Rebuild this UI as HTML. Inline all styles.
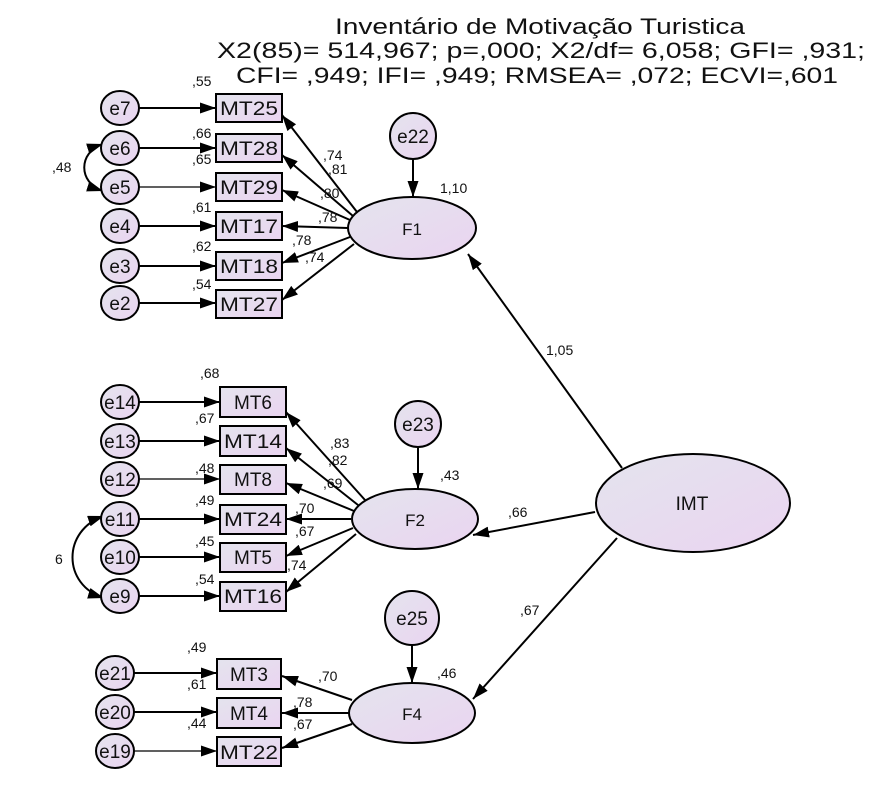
<!DOCTYPE html>
<html><head><meta charset="utf-8"><style>
html,body{margin:0;padding:0;background:#fff;}
svg{display:block;font-family:"Liberation Sans",Arial,sans-serif;}
</style></head><body>
<svg width="881" height="790" viewBox="0 0 881 790" xmlns="http://www.w3.org/2000/svg">
<defs>
<linearGradient id="g" x1="0" y1="0" x2="1" y2="1">
<stop offset="0" stop-color="#e4e4ee"/><stop offset="1" stop-color="#ead4f0"/>
</linearGradient>
<marker id="a" viewBox="0 0 16 11" refX="16" refY="5.5" markerWidth="16" markerHeight="11" markerUnits="userSpaceOnUse" orient="auto-start-reverse">
<path d="M0,0 L16,5.5 L0,11 z" fill="#000"/>
</marker>
</defs>

<g font-size="22" fill="#111" text-anchor="middle">
<text x="540" y="34" textLength="410" lengthAdjust="spacingAndGlyphs">Inventário de Motivação Turistica</text>
<text x="541" y="58" textLength="648" lengthAdjust="spacingAndGlyphs">X2(85)= 514,967; p=,000; X2/df= 6,058; GFI= ,931;</text>
<text x="537" y="83" textLength="602" lengthAdjust="spacingAndGlyphs">CFI= ,949; IFI= ,949; RMSEA= ,072; ECVI=,601</text>
</g>

<g stroke="#000" stroke-width="2" fill="none">
<line x1="138" y1="108" x2="216" y2="108" marker-end="url(#a)"/>
<line x1="138" y1="148" x2="216" y2="148" marker-end="url(#a)"/>
<line x1="138" y1="187" x2="216" y2="187" marker-end="url(#a)" stroke-width="1.3"/>
<line x1="138" y1="226" x2="216" y2="226" marker-end="url(#a)"/>
<line x1="138" y1="266" x2="216" y2="266" marker-end="url(#a)"/>
<line x1="138" y1="303" x2="216" y2="303" marker-end="url(#a)"/>
<line x1="357" y1="212" x2="282" y2="115" marker-end="url(#a)"/>
<line x1="353" y1="216" x2="282" y2="155" marker-end="url(#a)"/>
<line x1="350" y1="220" x2="282" y2="190" marker-end="url(#a)"/>
<line x1="348" y1="228" x2="282" y2="226" marker-end="url(#a)"/>
<line x1="350" y1="237" x2="282" y2="263" marker-end="url(#a)"/>
<line x1="354" y1="244" x2="282" y2="300" marker-end="url(#a)"/>
<line x1="413" y1="159" x2="413" y2="197" marker-end="url(#a)"/>
<path d="M103,144 C78,152 78,183 103,191" marker-start="url(#a)" marker-end="url(#a)"/>

<line x1="138" y1="402" x2="220" y2="402" marker-end="url(#a)"/>
<line x1="138" y1="441" x2="220" y2="441" marker-end="url(#a)"/>
<line x1="138" y1="479" x2="220" y2="479" marker-end="url(#a)" stroke-width="1.3"/>
<line x1="138" y1="519" x2="220" y2="519" marker-end="url(#a)"/>
<line x1="138" y1="557" x2="220" y2="557" marker-end="url(#a)"/>
<line x1="138" y1="596" x2="220" y2="596" marker-end="url(#a)"/>
<line x1="365" y1="500" x2="286" y2="412" marker-end="url(#a)"/>
<line x1="358" y1="505" x2="286" y2="448" marker-end="url(#a)"/>
<line x1="354" y1="511" x2="286" y2="483" marker-end="url(#a)"/>
<line x1="351" y1="519" x2="286" y2="519" marker-end="url(#a)"/>
<line x1="353" y1="528" x2="286" y2="556" marker-end="url(#a)"/>
<line x1="356" y1="534" x2="286" y2="592" marker-end="url(#a)"/>
<line x1="418" y1="448" x2="418" y2="489" marker-end="url(#a)"/>
<path d="M104,516 C62,530 62,585 104,598" marker-start="url(#a)" marker-end="url(#a)"/>

<line x1="133" y1="673" x2="217" y2="673" marker-end="url(#a)"/>
<line x1="133" y1="712" x2="217" y2="712" marker-end="url(#a)"/>
<line x1="133" y1="751" x2="217" y2="751" marker-end="url(#a)" stroke-width="1.3"/>
<line x1="352" y1="700" x2="282" y2="676" marker-end="url(#a)"/>
<line x1="349" y1="713" x2="282" y2="713" marker-end="url(#a)"/>
<line x1="352" y1="724" x2="282" y2="748" marker-end="url(#a)"/>
<line x1="412" y1="645" x2="412" y2="683" marker-end="url(#a)"/>

<line x1="622" y1="468" x2="468" y2="254" marker-end="url(#a)"/>
<line x1="595" y1="512" x2="473" y2="535" marker-end="url(#a)"/>
<line x1="617" y1="538" x2="473" y2="699" marker-end="url(#a)"/>
</g>

<g stroke="#000" stroke-width="2" fill="url(#g)">
<ellipse cx="120" cy="108" rx="19" ry="17"/>
<ellipse cx="120" cy="148" rx="19" ry="17"/>
<ellipse cx="120" cy="187" rx="19" ry="17"/>
<ellipse cx="120" cy="226" rx="19" ry="17"/>
<ellipse cx="120" cy="266" rx="19" ry="17"/>
<ellipse cx="120" cy="303" rx="19" ry="17"/>
<rect x="216" y="94" width="66" height="28"/>
<rect x="216" y="134" width="66" height="28"/>
<rect x="216" y="173" width="66" height="28"/>
<rect x="216" y="212" width="66" height="28"/>
<rect x="216" y="252" width="66" height="28"/>
<rect x="216" y="290" width="66" height="28"/>
<ellipse cx="412" cy="228" rx="64" ry="31"/>
<circle cx="413" cy="136" r="23"/>

<ellipse cx="120" cy="402" rx="19" ry="17"/>
<ellipse cx="120" cy="441" rx="19" ry="17"/>
<ellipse cx="120" cy="479" rx="19" ry="17"/>
<ellipse cx="120" cy="519" rx="19" ry="17"/>
<ellipse cx="120" cy="557" rx="19" ry="17"/>
<ellipse cx="120" cy="596" rx="19" ry="17"/>
<rect x="220" y="387" width="66" height="30"/>
<rect x="220" y="426" width="66" height="30"/>
<rect x="220" y="465" width="66" height="29"/>
<rect x="220" y="505" width="66" height="29"/>
<rect x="220" y="543" width="66" height="29"/>
<rect x="220" y="582" width="66" height="29"/>
<ellipse cx="415" cy="519" rx="63" ry="30"/>
<circle cx="418" cy="424" r="23"/>

<ellipse cx="693" cy="503" rx="97" ry="49"/>

<ellipse cx="115" cy="673" rx="19" ry="17"/>
<ellipse cx="115" cy="712" rx="19" ry="17"/>
<ellipse cx="115" cy="751" rx="19" ry="17"/>
<rect x="217" y="659" width="64" height="30"/>
<rect x="217" y="698" width="64" height="30"/>
<rect x="217" y="737" width="64" height="29"/>
<ellipse cx="412" cy="713" rx="63" ry="30"/>
<circle cx="412" cy="618" r="27"/>
</g>

<g font-size="19" fill="#111" text-anchor="middle">
<text x="120" y="115">e7</text><text x="120" y="155">e6</text><text x="120" y="194">e5</text>
<text x="120" y="233">e4</text><text x="120" y="273">e3</text><text x="120" y="310">e2</text>
<text x="249" y="115" textLength="58" lengthAdjust="spacingAndGlyphs">MT25</text><text x="249" y="155" textLength="58" lengthAdjust="spacingAndGlyphs">MT28</text><text x="249" y="194" textLength="58" lengthAdjust="spacingAndGlyphs">MT29</text>
<text x="249" y="233" textLength="58" lengthAdjust="spacingAndGlyphs">MT17</text><text x="249" y="273" textLength="58" lengthAdjust="spacingAndGlyphs">MT18</text><text x="249" y="311" textLength="58" lengthAdjust="spacingAndGlyphs">MT27</text>
<text x="412" y="235" font-size="17">F1</text><text x="413" y="143">e22</text>
<text x="120" y="409">e14</text><text x="120" y="448">e13</text><text x="120" y="486">e12</text>
<text x="120" y="526">e11</text><text x="120" y="564">e10</text><text x="120" y="603">e9</text>
<text x="253" y="409">MT6</text><text x="253" y="448" textLength="58" lengthAdjust="spacingAndGlyphs">MT14</text><text x="253" y="486">MT8</text>
<text x="253" y="526" textLength="58" lengthAdjust="spacingAndGlyphs">MT24</text><text x="253" y="564">MT5</text><text x="253" y="603" textLength="58" lengthAdjust="spacingAndGlyphs">MT16</text>
<text x="415" y="526" font-size="17">F2</text><text x="418" y="431">e23</text>
<text x="692" y="510" font-size="19">IMT</text>
<text x="115" y="680">e21</text><text x="115" y="719">e20</text><text x="115" y="758">e19</text>
<text x="249" y="681">MT3</text><text x="249" y="720">MT4</text><text x="249" y="759" textLength="58" lengthAdjust="spacingAndGlyphs">MT22</text>
<text x="412" y="720" font-size="17">F4</text><text x="412" y="625">e25</text>
</g>

<g font-size="14" fill="#111">
<text x="192" y="86">,55</text><text x="192" y="138">,66</text><text x="192" y="164">,65</text>
<text x="192" y="212">,61</text><text x="192" y="251">,62</text><text x="192" y="289">,54</text>
<text x="52" y="172">,48</text>
<text x="323" y="160">,74</text><text x="328" y="174">,81</text><text x="320" y="198">,80</text>
<text x="318" y="222">,78</text><text x="292" y="245">,78</text><text x="305" y="262">,74</text>
<text x="440" y="193">1,10</text>
<text x="546" y="355">1,05</text>
<text x="200" y="378">,68</text><text x="195" y="423">,67</text><text x="195" y="473">,48</text>
<text x="195" y="505">,49</text><text x="195" y="546">,45</text><text x="195" y="584">,54</text>
<text x="55" y="564">6</text>
<text x="330" y="448">,83</text><text x="328" y="465">,82</text><text x="323" y="488">,69</text>
<text x="295" y="513">,70</text><text x="295" y="536">,67</text><text x="287" y="570">,74</text>
<text x="440" y="480">,43</text><text x="508" y="517">,66</text>
<text x="520" y="615">,67</text><text x="437" y="678">,46</text>
<text x="187" y="652">,49</text><text x="187" y="689">,61</text><text x="187" y="728">,44</text>
<text x="318" y="681">,70</text><text x="293" y="707">,78</text><text x="293" y="729">,67</text>
</g>
</svg>
</body></html>
